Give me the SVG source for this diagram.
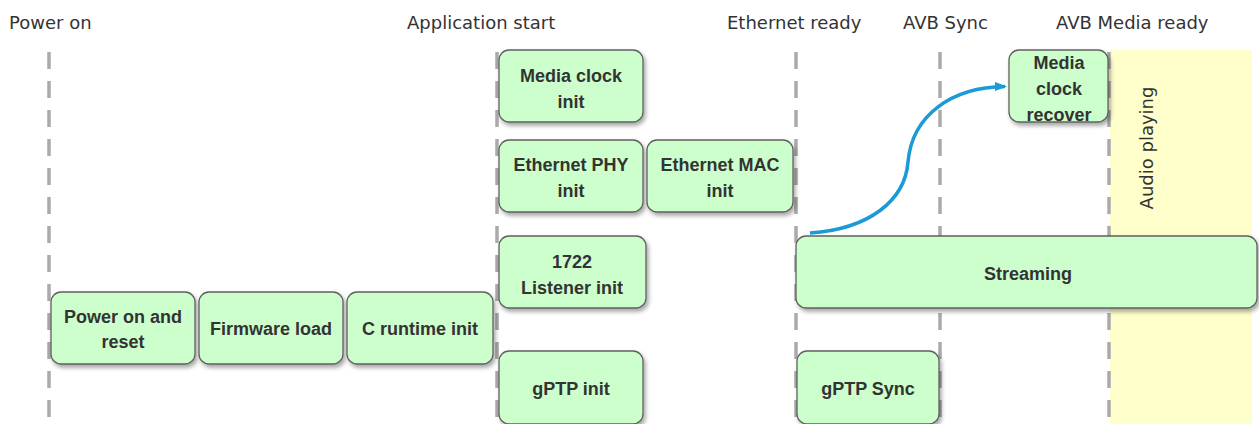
<svg xmlns="http://www.w3.org/2000/svg" width="1259" height="424" viewBox="0 0 1259 424">
<style>
.lbl{font-family:"DejaVu Sans","Liberation Sans",sans-serif;font-size:18px;fill:#333}
.box{fill:#ccffcc;stroke:#606060;stroke-width:1.3;filter:url(#sh)}
.bt{font-family:"Liberation Sans",Arial,sans-serif;font-size:18px;font-weight:bold;fill:#333;text-anchor:middle}
.dash{stroke:#aaaaaa;stroke-width:3.5;stroke-dasharray:17 12;fill:none}
</style>
<defs>
<filter id="sh" x="-10%" y="-20%" width="130%" height="150%">
<feDropShadow dx="2" dy="3" stdDeviation="2" flood-color="#000" flood-opacity="0.35"/>
</filter>
<marker id="ah" markerWidth="14" markerHeight="12" refX="10" refY="6" orient="auto" markerUnits="userSpaceOnUse">
<path d="M0,1.5 L12,6 L0,10.5 Z" fill="#1a9ad6"/>
</marker>
</defs>
<rect x="1110" y="50" width="142" height="374" fill="#ffffcc"/>
<g id="timeline">
<text class="lbl" x="9" y="29">Power on</text>
<text class="lbl" x="407" y="29">Application start</text>
<text class="lbl" x="727" y="29">Ethernet ready</text>
<text class="lbl" x="903" y="29">AVB Sync</text>
<text class="lbl" x="1056" y="29">AVB Media ready</text>
<line class="dash" x1="49" y1="52" x2="49" y2="424"/>
<line class="dash" x1="497" y1="52" x2="497" y2="424"/>
<line class="dash" x1="796" y1="52" x2="796" y2="424"/>
<line class="dash" x1="940" y1="52" x2="940" y2="424"/>
<line class="dash" x1="1109" y1="52" x2="1109" y2="424"/>
<text class="lbl" transform="translate(1153,148) rotate(-90)" text-anchor="middle">Audio playing</text>
</g>
<g id="power-on-reset"><rect class="box" x="51" y="292" width="144" height="72" rx="10"/><text class="bt" x="123" y="323">Power on and</text><text class="bt" x="123" y="348">reset</text></g>
<g id="firmware-load"><rect class="box" x="199" y="292" width="144" height="72" rx="10"/><text class="bt" x="271" y="335">Firmware load</text></g>
<g id="c-runtime-init"><rect class="box" x="347" y="292" width="146" height="72" rx="10"/><text class="bt" x="420" y="335">C runtime init</text></g>
<g id="media-clock-init"><rect class="box" x="499" y="50" width="144" height="72" rx="10"/><text class="bt" x="571" y="82">Media clock</text><text class="bt" x="571" y="108">init</text></g>
<g id="ethernet-phy-init"><rect class="box" x="499" y="140" width="144" height="72" rx="10"/><text class="bt" x="571" y="171">Ethernet PHY</text><text class="bt" x="571" y="197">init</text></g>
<g id="ethernet-mac-init"><rect class="box" x="647" y="140" width="146" height="72" rx="10"/><text class="bt" x="720" y="171">Ethernet MAC</text><text class="bt" x="720" y="197">init</text></g>
<g id="listener-init"><rect class="box" x="499" y="236" width="147" height="72" rx="10"/><text class="bt" x="572" y="268">1722</text><text class="bt" x="572" y="294">Listener init</text></g>
<g id="gptp-init"><rect class="box" x="499" y="351" width="144" height="73" rx="10"/><text class="bt" x="571" y="395">gPTP init</text></g>
<g id="streaming"><rect class="box" x="796" y="236" width="461" height="72" rx="10"/><text class="bt" x="1028" y="280">Streaming</text></g>
<g id="gptp-sync"><rect class="box" x="797" y="351" width="142" height="73" rx="10"/><text class="bt" x="868" y="395">gPTP Sync</text></g>
<g id="media-clock-recover"><rect class="box" x="1009" y="50" width="99" height="72" rx="10"/><text class="bt" x="1059" y="69">Media</text><text class="bt" x="1059" y="95">clock</text><text class="bt" x="1059" y="121">recover</text></g>
<g id="connectors">
<path d="M810,233 C870,229 905,200 908,162 C912,115 952,87 1005,86.5" fill="none" stroke="#1a9ad6" stroke-width="3.5" marker-end="url(#ah)"/>
</g>
</svg>
